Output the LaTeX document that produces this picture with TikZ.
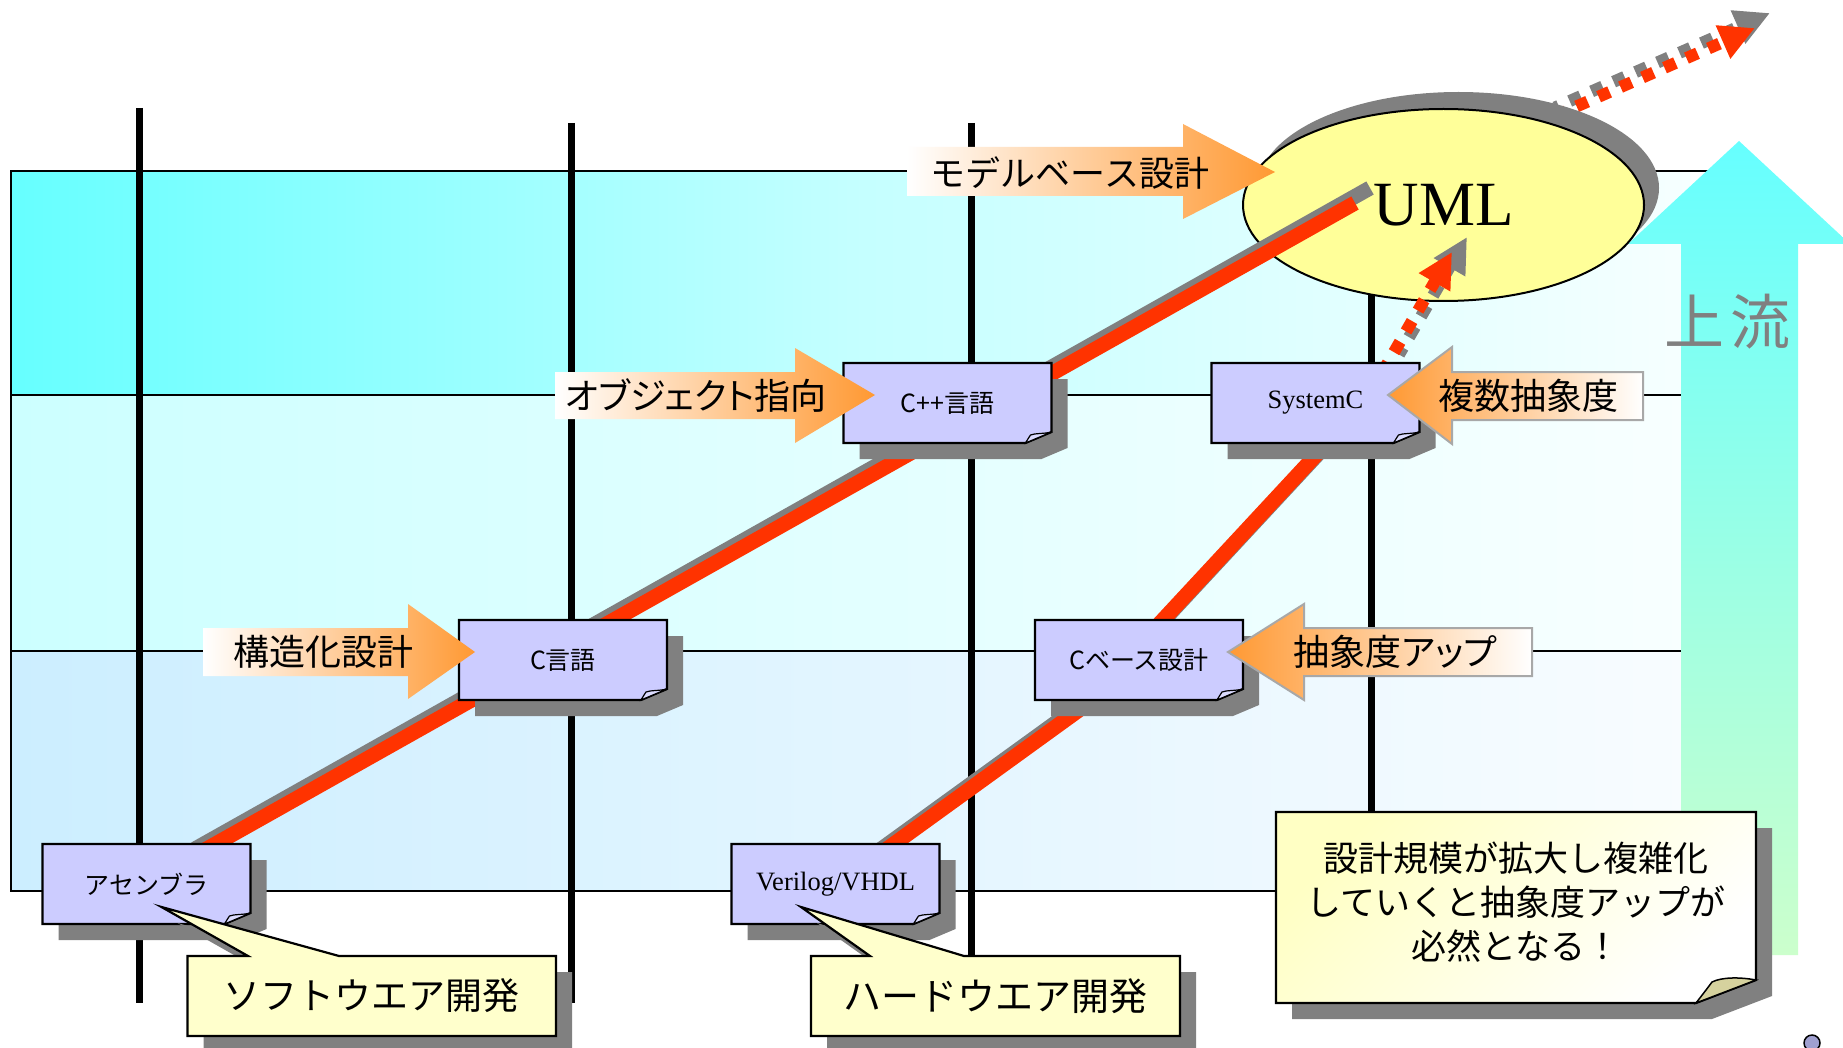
\documentclass[tikz,border=0pt]{standalone}
\usepackage{fontspec}
\setmainfont{Liberation Serif}
\newfontfamily\jp{Noto Sans CJK JP}
\newfontfamily\jpp{Noto Sans CJK JP}[RawFeature=+palt]
\usetikzlibrary{arrows.meta,shapes.geometric,calc}
\pgfdeclarelayer{back}
\pgfdeclarelayer{lines}
\pgfdeclarelayer{mid}
\pgfdeclarelayer{upper}
\pgfsetlayers{back,lines,mid,upper,main}
\definecolor{lav}{HTML}{CCCCFF}
\definecolor{lavflap}{HTML}{DCDCFF}
\definecolor{shgray}{HTML}{808080}
\definecolor{redl}{HTML}{FF3300}
\definecolor{orng}{HTML}{FF9933}
\definecolor{ellY}{HTML}{FFFF99}
\definecolor{callY}{HTML}{FFFFCC}
\definecolor{noteA}{HTML}{FFFFC4}
\definecolor{khaki}{HTML}{D6D29E}
\definecolor{rowA}{HTML}{66FFFF}
\definecolor{rowAm}{HTML}{C4FFFF}
\definecolor{rowAr}{HTML}{F6FFFF}
\definecolor{rowB}{HTML}{CCFFFF}
\definecolor{rowBr}{HTML}{F8FFFF}
\definecolor{rowC}{HTML}{CCEEFF}
\definecolor{rowCr}{HTML}{F8FCFF}
\definecolor{cyanA}{HTML}{66FFFF}
\definecolor{greenA}{HTML}{CCFFCC}
\definecolor{arrbord}{HTML}{A8A8A8}
\definecolor{dotlav}{HTML}{A0A0D0}
\newcommand{\myfs}[1]{\fontsize{#1}{#1}\selectfont}
\tikzset{
  boxline/.style={draw=black,line width=2.2pt},
  boxtext/.style={inner sep=0pt,minimum width=208pt,minimum height=80pt},
  gridline/.style={draw=black,line width=2pt},
  vline/.style={draw=black,line width=7pt},
  redthick/.style={draw=redl,line width=15pt},
  redshade/.style={draw=shgray,line width=15pt,transform canvas={xshift=15pt,yshift=15pt}},
  dotred/.style={draw=redl,line width=12pt,dash pattern=on 12pt off 12pt,-{Triangle[length=35pt,width=34pt]}},
  dotshade/.style={draw=shgray,line width=12pt,dash pattern=on 12pt off 12pt,-{Triangle[length=35pt,width=34pt]},transform canvas={xshift=15pt,yshift=15pt}},
  arrtext/.style={font=\jp\myfs{36},inner sep=0pt},
  arrbox/.style={draw=arrbord,line width=2pt},
  callout/.style={draw=black,line width=2.2pt,fill=callY},
  shadowsix/.style={fill=shgray,transform canvas={xshift=16pt,yshift=-16pt}},
}
\newcommand{\lavbox}[5]{%
  \fill[shgray] (#2-88,#3-24) -- (#2+120,#3-24) -- (#2+120,#3+45) -- (#2+94,#3+56) -- (#2-88,#3+56) -- cycle;
  \draw[boxline,fill=lav] (#2-104,#3-40) -- (#2+104,#3-40) -- (#2+104,#3+29) -- (#2+78,#3+40) -- (#2-104,#3+40) -- cycle;
  \draw[fill=lavflap,line width=1.2pt] (#2+104,#3+29) .. controls (#2+96,#3+31) and (#2+88,#3+30) .. (#2+83,#3+32) .. controls (#2+81,#3+35) .. (#2+78,#3+40) -- cycle;
  \node[boxtext,#4] (#1) at (#2,#3) {#5};
}
\begin{document}
\begin{tikzpicture}[x=1pt,y=-1pt]
\useasboundingbox (0,0) rectangle (1843,1048);

% ---------------- main layer: boxes, callouts, labels ----------------
\lavbox{asm}{146.5}{884}{font=\jp\myfs{25}}{アセンブラ}
\lavbox{c}{563}{660}{font=\jp\myfs{25}}{C言語}
\lavbox{cpp}{947.5}{403}{font=\jp\myfs{25}}{C++言語}
\lavbox{sysc}{1315.5}{403}{font=\myfs{26.5}}{SystemC}
\lavbox{cbase}{1139}{660}{font=\jp\myfs{25}}{Cベース設計}
\lavbox{veri}{835.5}{884}{font=\myfs{26.5}}{Verilog/VHDL}

% callout: software
\coordinate (sapex) at ($(asm.center)+(15,23)$);
\fill[shadowsix] (187.5,956) -- (248,956) -- (sapex) -- (339,956) -- (556,956) -- (556,1036) -- (187.5,1036) -- cycle;
\draw[callout] (187.5,956) -- (248,956) -- (sapex) -- (339,956) -- (556,956) -- (556,1036) -- (187.5,1036) -- cycle;
\node[font=\jp\myfs{37},inner sep=0pt] (soft) at (371.75,996) {ソフトウエア開発};

% callout: hardware
\coordinate (hapex) at ($(veri.center)+(-34.5,23)$);
\fill[shadowsix] (811,956) -- (870,956) -- (hapex) -- (964,956) -- (1180,956) -- (1180,1036) -- (811,1036) -- cycle;
\draw[callout] (811,956) -- (870,956) -- (hapex) -- (964,956) -- (1180,956) -- (1180,1036) -- (811,1036) -- cycle;
\node[font=\jp\myfs{38},inner sep=0pt] (hard) at (995.5,996) {ハードウエア開発};

% note box
\fill[shadowsix] (1276,812) -- (1756,812) -- (1756,980) -- (1696,1003) -- (1276,1003) -- cycle;
\shade[top color=noteA,bottom color=white,shading angle=45] (1276,812) -- (1756,812) -- (1756,980) -- (1696,1003) -- (1276,1003) -- cycle;
\draw[boxline] (1276,812) -- (1756,812) -- (1756,980) -- (1696,1003) -- (1276,1003) -- cycle;
\draw[fill=khaki,line width=1.5pt] (1756,980) .. controls (1740,977) and (1722,977) .. (1712,982) .. controls (1706,990) .. (1696,1003) -- cycle;
\node[font=\jp\fontsize{35}{44}\selectfont,align=center,inner sep=0pt] (note) at (1516,902) {設計規模が拡大し複雑化\\していくと抽象度アップが\\必然となる！};

% orange block arrows
\shade[left color=white,right color=orng] (203,628) -- (408,628) -- (408,604) -- (475,652) -- (408,699) -- (408,676) -- (203,676) -- cycle;
\node[arrtext] (struct) at (323,652) {構造化設計};
\shade[left color=white,right color=orng] (555,372) -- (795,372) -- (795,348) -- (875,395) -- (795,443) -- (795,419) -- (555,419) -- cycle;
\node[arrtext,font=\jpp\myfs{36}] (oop) at (696,396) {オブジェクト指向};
\shade[left color=white,right color=orng] (907,147) -- (1183,147) -- (1183,124) -- (1275,172) -- (1183,219) -- (1183,196) -- (907,196) -- cycle;
\node[arrtext,font=\jp\myfs{35}] (mbd) at (1070,173) {モデルベース設計};
\shade[left color=orng,right color=white] (1643,372) -- (1452,372) -- (1452,347) -- (1388,395) -- (1452,444) -- (1452,420) -- (1643,420) -- cycle;
\draw[arrbox] (1643,372) -- (1452,372) -- (1452,347) -- (1388,395) -- (1452,444) -- (1452,420) -- (1643,420) -- cycle;
\node[arrtext] (multi) at (1528,396) {複数抽象度};
\shade[left color=orng,right color=white] (1532,628) -- (1304,628) -- (1304,604) -- (1228,652) -- (1304,700) -- (1304,676) -- (1532,676) -- cycle;
\draw[arrbox] (1532,628) -- (1304,628) -- (1304,604) -- (1228,652) -- (1304,700) -- (1304,676) -- (1532,676) -- cycle;
\node[arrtext,font=\jpp\myfs{36}] (absup) at (1395,652) {抽象度アップ};

% small circle at bottom right
\node[circle,draw,line width=1.5pt,fill=dotlav,minimum size=16pt,inner sep=0pt] (dot) at (1812,1043) {};

% ---------------- mid layer: UML ellipse ----------------
\begin{pgfonlayer}{mid}
\fill[shgray] (1458.5,188) ellipse [x radius=200.5, y radius=96];
\node[ellipse,draw,line width=2pt,fill=ellY,minimum width=401pt,minimum height=192pt,inner sep=0pt,font=\myfs{63}] (uml) at (1443.5,205) {\raisebox{-3pt}{UML}};
\end{pgfonlayer}

% ---------------- upper layer: red lines and dotted arrow into UML ----------------
\begin{pgfonlayer}{upper}
\draw[redshade] ($(asm.center)+(33.5,-20)$) -- ($(uml.center)+(-88.5,-2)$);
\draw[redthick] ($(asm.center)+(33.5,-20)$) -- ($(uml.center)+(-88.5,-2)$);
\draw[redshade] ($(veri.center)+(22.5,-14)$) -- ($(cbase.center)+(9,0)$);
\draw[redthick] ($(veri.center)+(22.5,-14)$) -- ($(cbase.center)+(9,0)$);
\draw[redshade] ($(cbase.center)+(-4,-10)$) -- ($(sysc.center)+(33.5,16.5)$);
\draw[redthick] ($(cbase.center)+(-4,-10)$) -- ($(sysc.center)+(33.5,16.5)$);
\draw[dotshade,dash phase=4pt] ($(sysc.center)+(68.5,-33.5)$) -- ($(uml.center)+(8.5,47)$);
\draw[dotred,dash phase=4pt] ($(sysc.center)+(68.5,-33.5)$) -- ($(uml.center)+(8.5,47)$);
\end{pgfonlayer}

% ---------------- lines layer: long dotted arrow behind UML ----------------
\begin{pgfonlayer}{lines}
\coordinate (far) at (1755,28);
\draw[dotshade,dash phase=8pt] ($(uml.center)+(96.5,-82.5)$) -- (far);
\draw[dotred,dash phase=8pt] ($(uml.center)+(96.5,-82.5)$) -- (far);
\end{pgfonlayer}

% ---------------- back layer: grid and big arrow ----------------
\begin{pgfonlayer}{back}
\fill[white] (0,0) rectangle (1843,1048);
\shade[left color=rowA,right color=rowAr,middle color=rowAm] (11,171) rectangle (1690,395);
\shade[left color=rowB,right color=rowBr] (11,395) rectangle (1690,651);
\shade[left color=rowC,right color=rowCr] (11,651) rectangle (1690,891);
\draw[gridline] (1720,171) -- (11,171) -- (11,891) -- (1690,891);
\draw[gridline] (11,395) -- (1690,395);
\draw[gridline] (11,651) -- (1690,651);
\draw[vline] (139,108) -- (139,1003);
\draw[vline] (571,123) -- (571,1003);
\draw[vline] (971,123) -- (971,1003);
\draw[vline] (1371,123) -- (1371,1000);
\shade[top color=cyanA,bottom color=greenA] (1739,141) -- (1850,244) -- (1798,244) -- (1798,955) -- (1681,955) -- (1681,244) -- (1628,244) -- cycle;
\node[font=\jp\myfs{60},text=shgray,inner sep=0pt] (up) at (1727,322) {上\hspace{6pt}流};
\end{pgfonlayer}
\end{tikzpicture}
\end{document}
